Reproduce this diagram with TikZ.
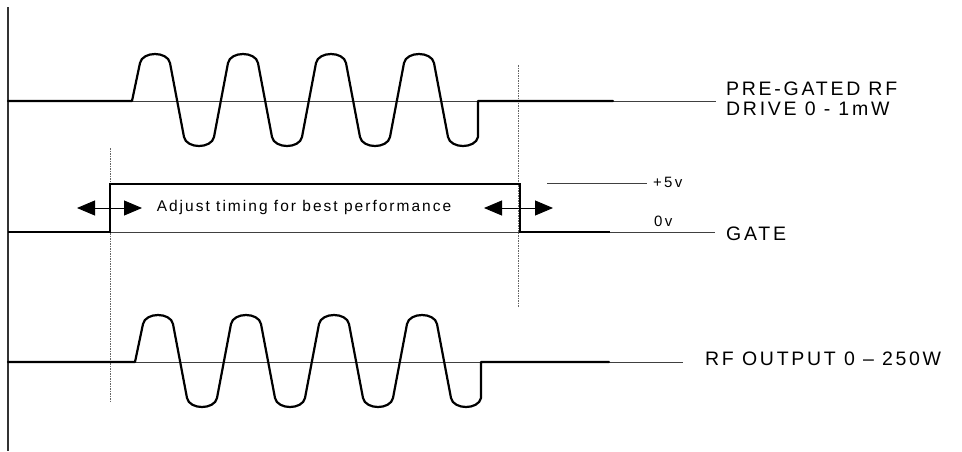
\documentclass[tikz,border=0pt]{standalone}
\usepackage{fontspec}
\setmainfont{Liberation Sans}
\newfontfamily\lbl[LetterSpace=14]{Liberation Sans}
\newfontfamily\lblmid[LetterSpace=13]{Liberation Sans}
\newfontfamily\lblsm[LetterSpace=15]{Liberation Sans}
\usetikzlibrary{arrows.meta}
\newcommand\rfburst[3]{% x-offset, baseline, end of thick line
  \begin{scope}[shift={(#1,#2)}]
    \draw[wave] ({8-#1},0) -- (132,0)
      foreach \k in {0,1,2,3}{
        -- ({140+88*\k},-38)
        .. controls ({142.5+88*\k},-50) and ({167.5+88*\k},-50) .. ({170+88*\k},-38)
        -- ({184+88*\k},36)
        .. controls ({186.5+88*\k},48) and ({211.5+88*\k},48) .. ({214+88*\k},36)
      } -- (478,0) -- ({#3-#1},0);
  \end{scope}}
\begin{document}
\begin{tikzpicture}[x=1pt,y=-1pt,
  wave/.style={line width=2.2pt, line join=round, line cap=round},
  gatewave/.style={line width=2.2pt, line join=miter},
  thinline/.style={line width=0.9pt, black!75},
  guide/.style={line width=0.8pt, black!60, dash pattern=on 1.5pt off 1pt},
  dbl/.style={line width=0.9pt, {Triangle[length=18pt,width=15pt]}-{Triangle[length=18pt,width=15pt]}},
  biglabel/.style={inner sep=0pt, anchor=west, font=\lbl\fontsize{19.5}{20}\selectfont, align=left},
  smlabel/.style={inner sep=0pt, anchor=west, font=\lblsm\fontsize{15}{17}\selectfont},
  midlabel/.style={inner sep=0pt, font=\lblmid\fontsize{15.5}{18}\selectfont},
]
\useasboundingbox (0,0) rectangle (962,451);
% axis
\coordinate (axT) at (8,7);
\coordinate (axB) at (8,451);
\draw[line width=1.2pt, black!80] (axT) -- (axB);
% thin baselines
\coordinate (b1s) at (8,101); \coordinate (b1e) at (716,101);
\coordinate (b2s) at (8,232); \coordinate (b2e) at (715,232);
\coordinate (b3s) at (8,362); \coordinate (b3e) at (683,362);
\draw[thinline] (b1s) -- (b1e);
\draw[thinline] (b2s) -- (b2e);
\draw[thinline] (b3s) -- (b3e);
% +5v reference line
\coordinate (p5s) at (547,183); \coordinate (p5e) at (647,183);
\draw[thinline] (p5s) -- (p5e);
% timing guides
\coordinate (gLt) at (110,148); \coordinate (gLb) at (110,402);
\coordinate (gRt) at (518,65); \coordinate (gRb) at (518,307);
\draw[guide] (gLt) -- (gLb);
\draw[guide] (gRt) -- (gRb);
% RF bursts
\rfburst{0}{101}{613}
\rfburst{3}{362}{609}
% gate
\coordinate (g0) at (8,232); \coordinate (g1) at (110,232); \coordinate (g2) at (110,184);
\coordinate (g3) at (520,184); \coordinate (g4) at (520,232); \coordinate (g5) at (610,232);
\draw[gatewave] (g0) -- (g1) -- (g2) -- (g3) -- (g4) -- (g5);
% adjustment arrows
\coordinate (aL1) at (77,208); \coordinate (aL2) at (142,208);
\coordinate (aR1) at (484,208); \coordinate (aR2) at (553,208);
\draw[dbl] (aL1) -- (aL2);
\draw[dbl] (aR1) -- (aR2);
% labels
\node[biglabel] (drive) at (726,99) {PRE-GATED RF\\DRIVE 0 - 1mW};
\node[biglabel] (gate) at (726,234) {GATE};
\node[biglabel] (out) at (705,359) {RF OUTPUT 0 – 250W};
\node[smlabel] (v5) at (653,182) {+5v};
\node[smlabel] (v0) at (654,221) {0v};
\node[midlabel] (adj) at (304,207) {Adjust timing for best performance};
\end{tikzpicture}
\end{document}
